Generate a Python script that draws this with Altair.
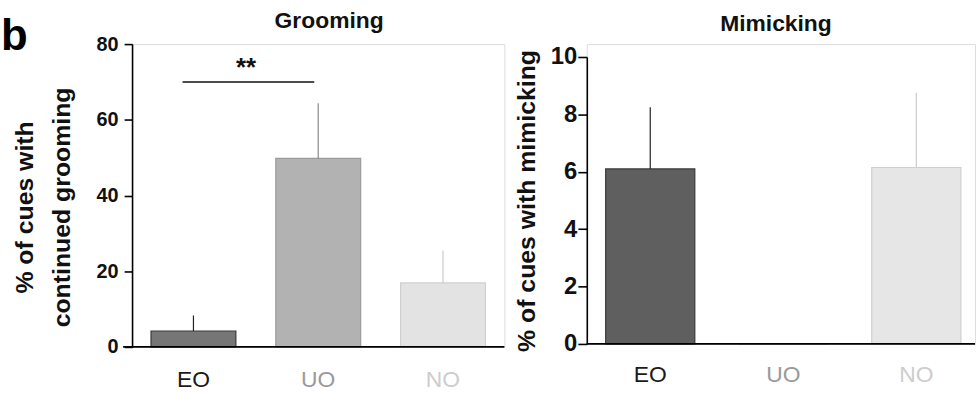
import altair as alt
import pandas as pd

# Experimental groups
groups = ["EO", "UO", "NO"]

# Grooming: mean % of cues with continued grooming and upper SEM
grooming_mean = [4.2, 49.8, 16.9]
grooming_sem = [4.1, 14.6, 8.6]

# Mimicking: mean % of cues with mimicking and upper SEM
mimicking_mean = [6.1, 0.0, 6.15]
mimicking_sem = [2.15, 0.0, 2.6]

# Significance bracket between EO and UO in the grooming panel
sig_y = 70
sig_label = "**"

bar_fill_groom = ["#767676", "#b2b2b2", "#e3e3e3"]
bar_fill_mimic = ["#5f5f5f", "#b2b2b2", "#e6e6e6"]
bar_stroke = ["#3a3a3a", "#9a9a9a", "#cfcfcf"]
err_color = ["#222222", "#8a8a8a", "#cccccc"]

FONT = "Liberation Sans"

label_color = {
    "condition": [
        {"test": "datum.value === 'EO'", "value": "#1a1a1a"},
        {"test": "datum.value === 'UO'", "value": "#9a9a9a"},
    ],
    "value": "#cdcdcd",
}


def frame(means, sems, fills):
    return pd.DataFrame({
        "group": groups,
        "mean": means,
        "top": [m + s for m, s in zip(means, sems)],
        "fill": fills,
        "stroke": bar_stroke,
        "err": err_color,
    })


def xenc(field, band, axis=alt.Undefined):
    po, pi, al = band
    return alt.X(
        field, sort=groups,
        scale=alt.Scale(domain=groups, paddingOuter=po, paddingInner=pi, align=al),
        axis=axis,
    )


def panel(df, title, ytitle, ymax, ystep, width, height, top, band,
          title_offset, title_dx, axis_left, tick_font, tick_size, label_pad,
          title_pad, xlabel_pad, title_y=alt.Undefined):
    xaxis = alt.Axis(
        title=None, domain=False, ticks=False, labelAngle=0,
        labelFont=FONT, labelFontSize=23, labelFontWeight="normal",
        labelPadding=xlabel_pad, labelColor=label_color,
    )
    ys = alt.Y(
        "mean:Q",
        scale=alt.Scale(domain=[0, ymax], nice=False, range=[height, top]),
        axis=alt.Axis(
            title=ytitle, values=list(range(0, ymax + 1, ystep)), grid=False,
            domainColor="#000", domainWidth=1.6, tickColor="#000", tickWidth=1.6,
            tickSize=tick_size, labelFont=FONT, labelFontSize=tick_font,
            labelFontWeight="bold", labelColor="#111", labelPadding=label_pad,
            titleFont=FONT, titleFontSize=25, titleFontWeight="bold",
            titleColor="#111", titlePadding=title_pad, titleLineHeight=37,
            titleY=title_y,
        ),
    )
    base = alt.Chart(df)
    err = base.mark_rule(strokeWidth=1.2).encode(
        x=xenc("group:N", band),
        y="mean:Q",
        y2="top:Q",
        color=alt.Color("err:N", scale=None),
    )
    bars = base.mark_bar(strokeWidth=1.2).encode(
        x=xenc("group:N", band, xaxis),
        y=ys,
        fill=alt.Fill("fill:N", scale=None),
        stroke=alt.Stroke("stroke:N", scale=None),
    )
    baseline = alt.Chart(pd.DataFrame({"v": [0]})).mark_rule(
        color="#000", strokeWidth=1.8
    ).encode(x=alt.value(axis_left), x2=alt.value(width), y="v:Q")
    return alt.layer(bars, err, baseline).properties(
        width=width,
        height=height,
        title=alt.TitleParams(
            title, font=FONT, fontSize=23, fontWeight="bold", color="#111",
            offset=title_offset, frame="group", anchor="middle", dx=title_dx,
        ),
    )


BAND_L = (0.152, 0.32, 0.5)
BAND_R = (0.124, 0.33, 0.572)

left = panel(
    frame(grooming_mean, grooming_sem, bar_fill_groom),
    "Grooming", ["% of cues with", "continued grooming"], 80, 20,
    375, 305, 0, BAND_L, -18, 11, -9, 20, 8, 6, 22, 22, title_y=164,
)

sig = alt.Chart(pd.DataFrame({"a": ["EO"], "b": ["UO"], "y": [sig_y], "t": [sig_label]}))
sig_line = sig.mark_rule(color="#111", strokeWidth=1.6, x2Offset=-4, xOffset=-11).encode(
    x=xenc("a:N", BAND_L), x2="b:N", y="y:Q"
)
sig_text = sig.mark_text(
    font=FONT, fontSize=26, fontWeight="bold", color="#111", dx=53, dy=-6,
    baseline="alphabetic",
).encode(x=xenc("a:N", BAND_L), y="y:Q", text="t:N")
panel_tag = alt.Chart(pd.DataFrame({"t": ["b"]})).mark_text(
    font=FONT, fontSize=44, fontWeight="bold", color="#000", align="left", baseline="top"
).encode(x=alt.value(-132), y=alt.value(-29), text="t:N")

left = alt.layer(left, sig_line, sig_text, panel_tag)

right = panel(
    frame(mimicking_mean, mimicking_sem, bar_fill_mimic),
    "Mimicking", "% of cues with mimicking", 10, 2,
    391, 302, 13, BAND_R, 8, -5, 0, 24, 9, 1, 11, 20,
)

chart = alt.hconcat(left, right, spacing=7).properties(
    padding={"left": 0, "top": 8, "right": 0, "bottom": 0}
).configure_view(stroke=None).configure(background="white")

chart.save("out.html", embed_options={"renderer": "svg", "actions": False})
